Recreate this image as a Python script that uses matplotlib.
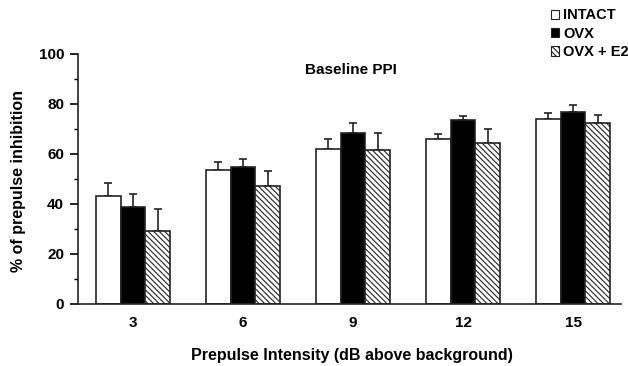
import matplotlib
matplotlib.use("Agg")
import matplotlib.pyplot as plt
import numpy as np
from matplotlib.patches import Patch

plt.rcParams['font.family'] = ['Liberation Sans', 'DejaVu Sans']
plt.rcParams['font.weight'] = 'bold'
plt.rcParams['hatch.linewidth'] = 0.8
plt.rcParams['hatch.color'] = '#222222'

categories = ['3', '6', '9', '12', '15']
series_names = ['INTACT', 'OVX', 'OVX + E2']
intact = [43.2, 53.6, 62.0, 66.0, 73.9]
ovx = [38.9, 54.8, 68.5, 73.5, 76.8]
ovx_e2 = [29.2, 47.3, 61.6, 64.5, 72.4]
intact_err = [5.1, 3.3, 4.0, 2.0, 2.4]
ovx_err = [5.0, 3.3, 3.8, 1.8, 2.9]
ovx_e2_err = [8.7, 5.8, 6.9, 5.4, 3.3]

HATCH = '\\' * 6

fig = plt.figure(figsize=(6.28, 3.66), dpi=100)
ax = fig.add_axes([0.1242, 0.1694, 0.8646, 0.6831])

x = np.arange(len(categories))
w = 0.227
edge = '#222222'
styles = [dict(color='white'), dict(color='black'), dict(color='white', hatch=HATCH)]
vals = [intact, ovx, ovx_e2]
errs = [intact_err, ovx_err, ovx_e2_err]
for i, (v, e, st) in enumerate(zip(vals, errs, styles)):
    pos = x + (i - 1) * w
    ax.bar(pos, v, width=w, edgecolor=edge, linewidth=1.2, zorder=2, **st)
    ax.errorbar(pos, v, yerr=[np.zeros(len(e)), e], fmt='none', ecolor=edge,
                elinewidth=1.2, capsize=3.2, capthick=1.2, zorder=1)

ax.set_xlim(-0.5, 4.436)
ax.set_ylim(0, 100)
ax.set_xticks(x)
ax.set_xticklabels(categories, fontsize=11, fontweight='bold')
ax.tick_params(axis='x', length=0, pad=9)
ax.set_yticks(np.arange(0, 101, 20))
ax.set_yticks(np.arange(10, 100, 20), minor=True)
ax.tick_params(axis='y', which='major', length=6, width=1.2, labelsize=11, direction='out', pad=4)
ax.tick_params(axis='y', which='minor', length=3, width=1.0, direction='out')
for lab in ax.get_yticklabels():
    lab.set_fontweight('bold')
for s in ['top', 'right']:
    ax.spines[s].set_visible(False)
for s in ['left', 'bottom']:
    ax.spines[s].set_linewidth(1.2)
    ax.spines[s].set_color(edge)

ax.text(0.503, 0.936, 'Baseline PPI', transform=ax.transAxes, ha='center', va='center',
        fontsize=11, fontweight='bold')

fig.text(0.029, 0.505, '% of prepulse inhibition', rotation=90, ha='center', va='center',
         fontsize=11.5, fontweight='bold')
fig.text(0.56, 0.03, 'Prepulse Intensity (dB above background)', ha='center', va='center',
         fontsize=11.5, fontweight='bold')

handles = [Patch(facecolor='white', edgecolor=edge, linewidth=0.8),
           Patch(facecolor='black', edgecolor=edge, linewidth=0.8),
           Patch(facecolor='white', edgecolor=edge, hatch=HATCH, linewidth=0.8)]
leg = fig.legend(handles, series_names, loc='upper left', bbox_to_anchor=(0.872, 0.985),
                 frameon=False, fontsize=10.5, handlelength=0.6, handleheight=0.6,
                 handletextpad=0.25, labelspacing=0.3, borderaxespad=0, borderpad=0.2)
for t in leg.get_texts():
    t.set_fontweight('bold')

fig.savefig('out.png', dpi=100)
